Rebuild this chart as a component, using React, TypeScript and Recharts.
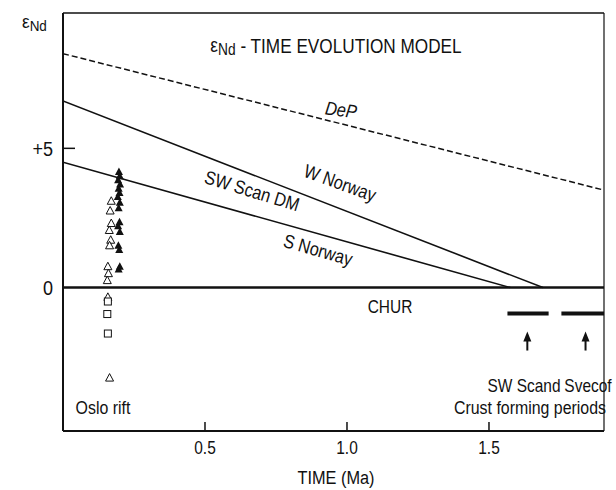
import React from 'react';
import {
  ComposedChart,
  Line,
  Scatter,
  XAxis,
  YAxis,
  ReferenceLine,
} from 'recharts';

const FONT = '"Liberation Sans", Arial, Helvetica, sans-serif';
const INK = '#111';

const X_MAX = 1.905;
const Y_MIN = -5.15;
const Y_MAX = 9.86;

const xTicks = [0.5, 1.0, 1.5];
const xTickLabels = ['0.5', '1.0', '1.5'];
const yTicks = [0, 5];
const yTickLabels = ['0', '+5'];

// model evolution lines (time in Ga, eNd)
const depaoloLine = [{ t: 0, e: 8.4 }, { t: 1.905, e: 3.5 }];
const wNorwayLine = [{ t: 0, e: 6.7 }, { t: 1.69, e: 0 }];
const sNorwayLine = [{ t: 0, e: 4.5 }, { t: 1.575, e: 0 }];

// crust forming periods
const swScandPeriod = [{ t: 1.565, e: -0.93 }, { t: 1.71, e: -0.93 }];
const svecofPeriod = [{ t: 1.755, e: -0.93 }, { t: 1.905, e: -0.93 }];
const periodArrows = [{ t: 1.635, e: -1.65 }, { t: 1.84, e: -1.65 }];

// Oslo rift samples
const filledTriangles = [
  { t: 0.197, e: 4.15 }, { t: 0.2, e: 4.0 }, { t: 0.194, e: 3.85 },
  { t: 0.201, e: 3.7 }, { t: 0.196, e: 3.55 }, { t: 0.199, e: 3.4 },
  { t: 0.193, e: 3.25 }, { t: 0.2, e: 3.05 }, { t: 0.196, e: 2.85 },
  { t: 0.199, e: 2.35 }, { t: 0.194, e: 2.2 }, { t: 0.2, e: 2.0 },
  { t: 0.195, e: 1.5 }, { t: 0.198, e: 1.35 }, { t: 0.2, e: 0.75 },
  { t: 0.196, e: 0.65 },
];
const openTriangles = [
  { t: 0.17, e: 3.1 }, { t: 0.166, e: 2.75 }, { t: 0.17, e: 2.3 },
  { t: 0.163, e: 2.05 }, { t: 0.168, e: 1.7 }, { t: 0.164, e: 1.5 },
  { t: 0.158, e: 0.75 }, { t: 0.16, e: 0.5 }, { t: 0.156, e: 0.25 },
  { t: 0.158, e: -0.35 }, { t: 0.164, e: -3.25 },
];
const openSquares = [
  { t: 0.158, e: -0.5 }, { t: 0.156, e: -0.95 }, { t: 0.158, e: -1.65 },
];

const FilledTriangle = ({ cx, cy }: any) => (
  <path d={`M${cx},${cy - 4.5}L${cx + 4},${cy + 3}L${cx - 4},${cy + 3}Z`} fill={INK} />
);
const OpenTriangle = ({ cx, cy }: any) => (
  <path
    d={`M${cx},${cy - 4.5}L${cx + 4},${cy + 3}L${cx - 4},${cy + 3}Z`}
    fill="#fff"
    stroke={INK}
    strokeWidth={1}
  />
);
const OpenSquare = ({ cx, cy }: any) => (
  <rect x={cx - 3.5} y={cy - 3.5} width={7} height={7} fill="#fff" stroke={INK} strokeWidth={1} />
);
const UpArrow = ({ cx, cy }: any) => (
  <g>
    <line x1={cx} x2={cx} y1={cy + 5} y2={cy + 17} stroke={INK} strokeWidth={2} />
    <path d={`M${cx},${cy - 2}L${cx + 4},${cy + 8}L${cx - 4},${cy + 8}Z`} fill={INK} />
  </g>
);

// narrow sans text, centred on (x, y)
const T = ({ x, y, size = 19, angle = 0, anchor = 'middle', italic = false, children }: any) => (
  <text
    transform={`translate(${x} ${y}) rotate(${angle}) scale(0.86 1)`}
    textAnchor={anchor}
    dominantBaseline="central"
    fontSize={size}
    fontStyle={italic ? 'italic' : 'normal'}
    fontFamily={FONT}
    fill={INK}
  >
    {children}
  </text>
);

const XTick = ({ x, y, payload }: any) => {
  const i = xTicks.indexOf(payload.value);
  return (
    <g>
      <line x1={x} x2={x} y1={y} y2={y - 9} stroke={INK} strokeWidth={1.5} />
      <T x={x} y={y + 17} size={18}>{xTickLabels[i]}</T>
    </g>
  );
};

const YTick = ({ x, y, payload }: any) => {
  const i = yTicks.indexOf(payload.value);
  return (
    <g>
      {payload.value !== 0 && (
        <line x1={x} x2={x + 12} y1={y} y2={y} stroke={INK} strokeWidth={1.5} />
      )}
      <T x={x - 10} y={y} size={21} anchor="end">{yTickLabels[i]}</T>
    </g>
  );
};

export default function App() {
  return (
    <div style={{ position: 'absolute', left: 0, top: 0, width: 616, height: 490, background: '#fff' }}>
      <ComposedChart
        width={616}
        height={490}
        margin={{ top: 13, right: 12, bottom: 0, left: 0 }}
      >
        <XAxis
          type="number"
          dataKey="t"
          domain={[0, X_MAX]}
          ticks={xTicks}
          tick={<XTick />}
          tickLine={false}
          tickSize={0}
          tickMargin={0}
          height={59}
          axisLine={{ stroke: INK, strokeWidth: 2 }}
          allowDataOverflow
        />
        <YAxis
          type="number"
          dataKey="e"
          domain={[Y_MIN, Y_MAX]}
          ticks={yTicks}
          tick={<YTick />}
          tickLine={false}
          tickSize={0}
          tickMargin={0}
          width={63}
          axisLine={{ stroke: INK, strokeWidth: 2 }}
          allowDataOverflow
        />
        <ReferenceLine y={Y_MAX} stroke={INK} strokeWidth={1.5} />
        <ReferenceLine x={X_MAX} stroke={INK} strokeWidth={1.2} />
        <ReferenceLine y={0} stroke={INK} strokeWidth={2.5} />

        <Line data={depaoloLine} dataKey="e" type="linear" stroke={INK} strokeWidth={1.5}
          strokeDasharray="6 3" dot={false} isAnimationActive={false} />
        <Line data={wNorwayLine} dataKey="e" type="linear" stroke={INK} strokeWidth={1.6}
          dot={false} isAnimationActive={false} />
        <Line data={sNorwayLine} dataKey="e" type="linear" stroke={INK} strokeWidth={1.6}
          dot={false} isAnimationActive={false} />
        <Line data={swScandPeriod} dataKey="e" type="linear" stroke={INK} strokeWidth={4}
          dot={false} isAnimationActive={false} />
        <Line data={svecofPeriod} dataKey="e" type="linear" stroke={INK} strokeWidth={4}
          dot={false} isAnimationActive={false} />

        <Scatter data={periodArrows} shape={<UpArrow />} isAnimationActive={false} />
        <Scatter data={openTriangles} shape={<OpenTriangle />} isAnimationActive={false} />
        <Scatter data={openSquares} shape={<OpenSquare />} isAnimationActive={false} />
        <Scatter data={filledTriangles} shape={<FilledTriangle />} isAnimationActive={false} />
      </ComposedChart>

      <svg width={616} height={490} style={{ position: 'absolute', left: 0, top: 0, pointerEvents: 'none' }}>
        <text transform="translate(22 22) scale(0.9 1)" dominantBaseline="central" fontSize={19} fontFamily={FONT} fill={INK}>
          ε<tspan fontSize={15} dy={4}>Nd</tspan>
        </text>
        <text transform="translate(336 45) scale(0.86 1)" textAnchor="middle" dominantBaseline="central" fontSize={20} fontFamily={FONT} fill={INK}>
          ε<tspan fontSize={16} dy={4}>Nd</tspan>
          <tspan dy={-4}> - TIME EVOLUTION MODEL</tspan>
        </text>
        <T x={341} y={110} size={19} angle={8} italic>DeP</T>
        <T x={340} y={183} size={19} angle={20}>W Norway</T>
        <T x={252} y={191} size={19} angle={17}>SW Scan DM</T>
        <T x={318} y={250} size={19} angle={16}>S Norway</T>
        <T x={390} y={307} size={18}>CHUR</T>
        <T x={524} y={386} size={18}>SW Scand</T>
        <T x={588} y={386} size={18}>Svecof</T>
        <T x={530} y={408} size={18.5}>Crust forming periods</T>
        <T x={103} y={408} size={18.5}>Oslo rift</T>
        <T x={336} y={478} size={19}>TIME (Ma)</T>
      </svg>
    </div>
  );
}
